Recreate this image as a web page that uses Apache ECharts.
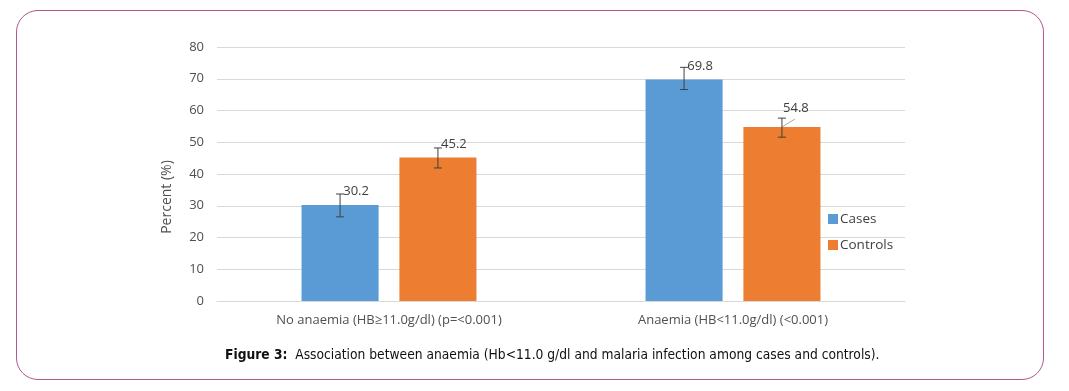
<!DOCTYPE html>
<html>
<head>
<meta charset="utf-8">
<script src="https://cdn.jsdelivr.net/npm/echarts@6/dist/echarts.min.js"></script>
<style>
html,body{margin:0;padding:0;background:#fff;}
#frame{position:absolute;left:16px;top:10px;width:1028px;height:370px;border:1.5px solid #b0588c;border-radius:22px;box-sizing:border-box;}
#chart{position:absolute;left:0;top:0;width:1069px;height:391px;}
</style>
</head>
<body>
<div id="frame"></div>
<div id="chart"></div>
<script>
const categories = ['No anaemia (HB\u226511.0g/dl) (p=<0.001)', 'Anaemia (HB<11.0g/dl) (<0.001)'];
const casesValues = [30.2, 69.8];
const controlsValues = [45.2, 54.8];
const casesErrLow = [26.5, 66.6];
const casesErrHigh = [33.7, 73.6];
const controlsErrLow = [41.9, 51.6];
const controlsErrHigh = [48.2, 57.6];
const yTicks = [0, 10, 20, 30, 40, 50, 60, 70, 80];

const BAR_FRAC = 0.224, GAP_FRAC = 0.27;
const font = '"Open Sans", "Noto Sans", sans-serif';
const capFont = '"Liberation Sans Narrow", "DejaVu Sans Condensed", sans-serif';
const textColor = '#505050';

// leaderIdx: data index whose label gets a short leader line (54.8 in Controls)
function errSeries(low, high, vals, side, leaderIdx) {
  return {
    type: 'custom',
    z: 10,
    silent: true,
    data: low.map((l, i) => [i, l, high[i], vals[i]]),
    renderItem: function (params, api) {
      const band = api.size([1, 0])[0];
      const bw = band * BAR_FRAC;
      const off = side * bw * (1 + GAP_FRAC) / 2;
      const lo = api.coord([api.value(0), api.value(1)]);
      const hi = api.coord([api.value(0), api.value(2)]);
      const top = api.coord([api.value(0), api.value(3)]);
      const x = lo[0] + off;
      const cap = 4;
      const style = { stroke: '#404040', lineWidth: 1 };
      const children = [
        { type: 'line', shape: { x1: x, y1: lo[1], x2: x, y2: hi[1] }, style: style },
        { type: 'line', shape: { x1: x - cap, y1: lo[1], x2: x + cap, y2: lo[1] }, style: style },
        { type: 'line', shape: { x1: x - cap, y1: hi[1], x2: x + cap, y2: hi[1] }, style: style }
      ];
      if (params.dataIndex === leaderIdx) {
        children.push({ type: 'line', z2: -1, shape: { x1: x, y1: top[1], x2: x + 13, y2: top[1] - 8 },
          style: { stroke: '#a6a6a6', lineWidth: 1 } });
      }
      return { type: 'group', children: children };
    }
  };
}

const labelStyle = { show: true, position: 'top', offset: [16, -2], color: '#404040', fontSize: 13, fontFamily: font };

const chart = echarts.init(document.getElementById('chart'));
chart.setOption({
  animation: false,
  textStyle: { fontFamily: font },
  grid: { left: 217, right: 164, top: 47, bottom: 90 },
  legend: {
    orient: 'vertical',
    left: 823,
    top: 207,
    itemWidth: 10,
    itemHeight: 10,
    itemGap: 12,
    icon: 'rect',
    textStyle: { color: '#404040', fontSize: 13.5, fontFamily: font, padding: [0, 0, 0, -3] },
    data: ['Cases', 'Controls']
  },
  xAxis: {
    type: 'category',
    data: categories,
    axisLine: { lineStyle: { color: '#d9d9d9', width: 1 } },
    axisTick: { show: false },
    axisLabel: { color: textColor, fontSize: 13, margin: 13, fontFamily: font }
  },
  yAxis: {
    type: 'value',
    min: 0,
    max: 80,
    interval: 10,
    axisLine: { show: false },
    axisTick: { show: false },
    axisLabel: { color: textColor, fontSize: 13, margin: 13, fontFamily: font,
      formatter: v => yTicks.includes(v) ? String(v) : '' },
    splitLine: { lineStyle: { color: '#d9d9d9', width: 1 } }
  },
  graphic: [
    { type: 'text', x: 167, y: 197, rotation: Math.PI / 2,
      style: { text: 'Percent (%)', fill: textColor, font: '14px ' + font, align: 'center', verticalAlign: 'middle' } },
    { type: 'text', left: 225, top: 348,
      style: { rich: { b: { fontWeight: 'bold', fontSize: 13.7, fontFamily: capFont, fill: '#111' },
                       n: { fontSize: 13.7, fontFamily: capFont, fill: '#111' } },
               text: '{b|Figure 3:}{n|  Association between anaemia (Hb<11.0 g/dl and malaria infection among cases and controls).}' } }
  ],
  series: [
    {
      name: 'Cases', type: 'bar', data: casesValues,
      barWidth: (BAR_FRAC * 100) + '%', barGap: (GAP_FRAC * 100) + '%',
      itemStyle: { color: '#5b9bd5' },
      label: labelStyle
    },
    {
      name: 'Controls', type: 'bar',
      data: controlsValues.map((v, i) => i === 1 ? { value: v, label: { offset: [14, -7] } } : v),
      barWidth: (BAR_FRAC * 100) + '%',
      itemStyle: { color: '#ed7d31' },
      label: labelStyle
    },
    errSeries(casesErrLow, casesErrHigh, casesValues, -1, -1),
    errSeries(controlsErrLow, controlsErrHigh, controlsValues, 1, 1)
  ]
});
</script>
</body>
</html>
